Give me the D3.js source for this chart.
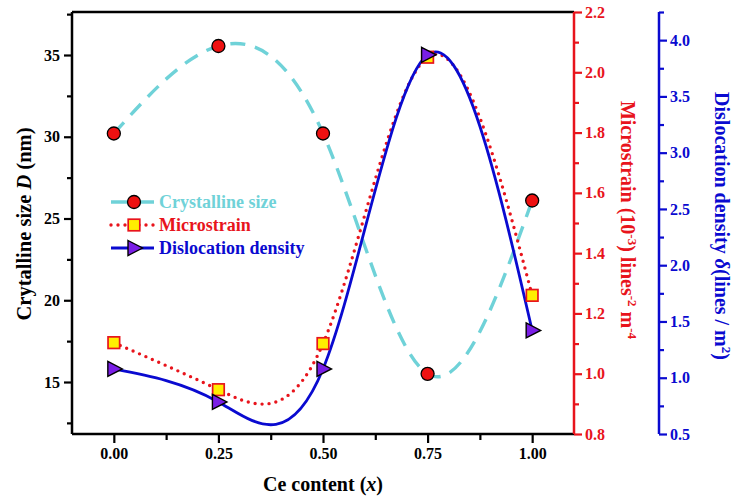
<!DOCTYPE html>
<html><head><meta charset="utf-8">
<script src="https://cdn.jsdelivr.net/npm/d3@7"></script>
<style>body{margin:0;background:#fff}svg{display:block}text{font-family:"Liberation Serif","Times New Roman",serif;font-weight:bold}</style>
</head><body><svg id="c" width="736" height="497"></svg>
<script>
const ceContent = [0.00, 0.25, 0.50, 0.75, 1.00];
const crystallineSize = [30.2, 35.55, 30.2, 15.5, 26.1];
const microstrain = [1.103, 0.947, 1.10, 2.05, 1.26];
const dislocation = [1.078, 0.785, 1.078, 3.87, 1.42];
const xTicks = [0, 0.25, 0.5, 0.75, 1.0];
const leftTicks = [15, 20, 25, 30, 35];
const redTicks = [0.8, 1.0, 1.2, 1.4, 1.6, 1.8, 2.0, 2.2];
const blueTicks = [0.5, 1.0, 1.5, 2.0, 2.5, 3.0, 3.5, 4.0];

const svg = d3.select("#c");
const L = 72, R = 574, T = 12, B = 434;
const x = d3.scaleLinear().domain([-0.1, 1.1]).range([L, R]);
const yL = d3.scaleLinear().domain([11.82, 37.63]).range([B, T]);
const yR = d3.scaleLinear().domain([0.8, 2.2]).range([B, T]);
const yB = d3.scaleLinear().domain([0.5, 4.25]).range([B, T]);
const cyan = "#6fd2d8", red = "#e8141c", blue = "#0a0ad0";

svg.append("line").attr("x1", L).attr("x2", R).attr("y1", T).attr("y2", T).attr("stroke", "#000").attr("stroke-width", 2.5);

function styleAxis(g, color) {
  g.attr("font-size", null).attr("font-family", null);
  g.select(".domain").attr("stroke", color).attr("stroke-width", 2.5);
  g.selectAll(".tick line").attr("stroke", color).attr("stroke-width", 2.2);
  g.selectAll(".tick text").attr("fill", color).style("font-size", "16px");
}
function minor(g) { g.selectAll(".tick text").remove(); g.select(".domain").remove(); }

const gxm = svg.append("g").attr("transform", `translate(0,${B})`)
  .call(d3.axisBottom(x).tickValues([0.125, 0.375, 0.625, 0.875]).tickSize(6).tickFormat(""));
minor(gxm); styleAxis(gxm, "#000");
const gx = svg.append("g").attr("transform", `translate(0,${B})`)
  .call(d3.axisBottom(x).tickValues(xTicks).tickSize(9).tickPadding(5).tickSizeOuter(0).tickFormat(d3.format(".2f")));
styleAxis(gx, "#000");
gx.select(".domain").attr("d", `M${L},0H${R}`);

const gym = svg.append("g").attr("transform", `translate(${L},0)`)
  .call(d3.axisLeft(yL).tickValues([12.5, 17.5, 22.5, 27.5, 32.5, 37.5]).tickSize(5).tickFormat(""));
minor(gym); styleAxis(gym, "#000");
const gy = svg.append("g").attr("transform", `translate(${L},0)`)
  .call(d3.axisLeft(yL).tickValues(leftTicks).tickSize(8).tickPadding(4).tickSizeOuter(0));
styleAxis(gy, "#000");
gy.select(".domain").attr("d", `M0,${T}V${B}`);

const grm = svg.append("g").attr("transform", `translate(${R},0)`)
  .call(d3.axisRight(yR).tickValues([0.9, 1.1, 1.3, 1.5, 1.7, 1.9, 2.1]).tickSize(5).tickFormat(""));
minor(grm); styleAxis(grm, red);
const gr = svg.append("g").attr("transform", `translate(${R},0)`)
  .call(d3.axisRight(yR).tickValues(redTicks).tickSize(8).tickPadding(3).tickSizeOuter(0).tickFormat(d3.format(".1f")));
styleAxis(gr, red);
gr.select(".domain").attr("d", `M0,${T}V${B}`);

const BX = 659;
const gbm = svg.append("g").attr("transform", `translate(${BX},0)`)
  .call(d3.axisRight(yB).tickValues([0.75, 1.25, 1.75, 2.25, 2.75, 3.25, 3.75, 4.25]).tickSize(5).tickFormat(""));
minor(gbm); styleAxis(gbm, blue);
const gb = svg.append("g").attr("transform", `translate(${BX},0)`)
  .call(d3.axisRight(yB).tickValues(blueTicks).tickSize(8).tickPadding(3).tickSizeOuter(0).tickFormat(d3.format(".1f")));
styleAxis(gb, blue);
gb.select(".domain").attr("d", `M0,${T}V${B}`);

const line = (ys) => d3.line().x((d, i) => x(ceContent[i])).y(d => ys(d)).curve(d3.curveNatural);
svg.append("path").datum(crystallineSize).attr("d", line(yL)).attr("fill", "none")
  .attr("stroke", cyan).attr("stroke-width", 3.4).attr("stroke-dasharray", "15,10");
svg.append("path").datum(microstrain).attr("d", line(yR)).attr("fill", "none")
  .attr("stroke", red).attr("stroke-width", 3.4).attr("stroke-dasharray", "0,7").attr("stroke-linecap", "round");
svg.append("path").datum(dislocation).attr("d", line(yB)).attr("fill", "none")
  .attr("stroke", blue).attr("stroke-width", 2.8);

const circleFill = "#ee1111", sqFill = "#ffee00", triFill = "#7a1ee6";
function circleM(g, cx, cy) { g.append("circle").attr("cx", cx).attr("cy", cy).attr("r", 6.5).attr("fill", circleFill).attr("stroke", "#000").attr("stroke-width", 1.3); }
function squareM(g, cx, cy) { g.append("rect").attr("x", cx - 5.8).attr("y", cy - 5.8).attr("width", 11.6).attr("height", 11.6).attr("fill", sqFill).attr("stroke", red).attr("stroke-width", 1.7); }
function triM(g, cx, cy) { g.append("path").attr("d", `M${cx - 6},${cy - 7.5}L${cx + 8.5},${cy}L${cx - 6},${cy + 7.5}Z`).attr("fill", triFill).attr("stroke", "#000").attr("stroke-width", 1.4); }
const mk = svg.append("g");
ceContent.forEach((c, i) => circleM(mk, x(c), yL(crystallineSize[i])));
ceContent.forEach((c, i) => squareM(mk, x(c), yR(microstrain[i])));
ceContent.forEach((c, i) => triM(mk, x(c), yB(dislocation[i])));

const legend = [
  { label: "Crystalline size", color: cyan, m: circleM, dash: null, w: 3.4 },
  { label: "Microstrain", color: red, m: squareM, dash: "0,7", w: 3.4 },
  { label: "Dislocation density", color: blue, m: triM, dash: null, w: 2.8 }
];
legend.forEach((d, i) => {
  const yy = 202 + i * 23;
  const g = svg.append("g");
  const ln = g.append("line").attr("x1", 111).attr("x2", 154).attr("y1", yy).attr("y2", yy)
    .attr("stroke", d.color).attr("stroke-width", d.w).attr("stroke-linecap", d.dash ? "round" : "butt");
  if (d.dash) ln.attr("stroke-dasharray", d.dash);
  d.m(g, 134, yy);
  g.append("text").attr("x", 159).attr("y", yy + 6).attr("fill", d.color).style("font-size", "18px").text(d.label);
});

const t1 = svg.append("text").attr("transform", "translate(31,224) rotate(-90)").attr("text-anchor", "middle").attr("fill", "#000").style("font-size", "20.5px");
t1.append("tspan").text("Crytalline size ");
t1.append("tspan").attr("font-style", "italic").text("D");
t1.append("tspan").text(" (nm)");

const t2 = svg.append("text").attr("x", 323).attr("y", 491).attr("text-anchor", "middle").attr("fill", "#000").style("font-size", "20px");
t2.append("tspan").text("Ce content (");
t2.append("tspan").attr("font-style", "italic").text("x");
t2.append("tspan").text(")");

const t3 = svg.append("text").attr("transform", "translate(621,220) rotate(90)").attr("text-anchor", "middle").attr("fill", red).style("font-size", "20px");
t3.append("tspan").text("Microstrain (10");
t3.append("tspan").attr("dy", -7).style("font-size", "13px").text("-3");
t3.append("tspan").attr("dy", 7).text(") lines");
t3.append("tspan").attr("dy", -7).style("font-size", "13px").text("-2");
t3.append("tspan").attr("dy", 7).text(" m");
t3.append("tspan").attr("dy", -7).style("font-size", "13px").text("-4");

const t4 = svg.append("text").attr("transform", "translate(715,226) rotate(90)").attr("text-anchor", "middle").attr("fill", blue).style("font-size", "20px");
t4.append("tspan").text("Dislocation density ");
t4.append("tspan").attr("font-style", "italic").text("δ");
t4.append("tspan").text("(lines / m");
t4.append("tspan").attr("dy", -7).style("font-size", "13px").text("2");
t4.append("tspan").attr("dy", 7).text(")");
</script></body></html>
